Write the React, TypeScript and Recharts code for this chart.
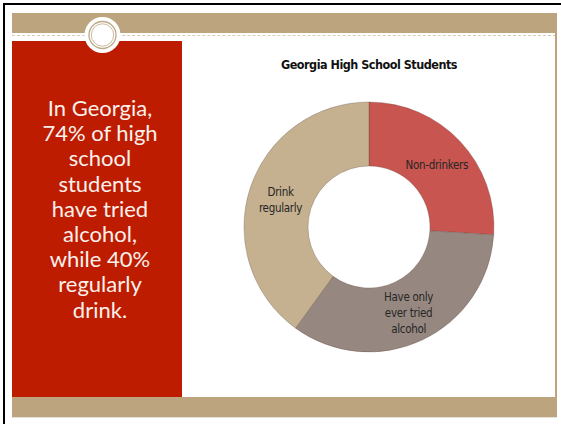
import { PieChart, Pie, Cell } from "recharts";

const categories = ["Non-drinkers", "Have only ever tried alcohol", "Drink regularly"];
const shares = [26, 34, 40];
const labelLines = [["Non-drinkers"], ["Have only", "ever tried", "alcohol"], ["Drink", "regularly"]];
const sliceColors = ["#C8554F", "#968880", "#C5B08F"];

const chartTitle = "Georgia High School Students";
const sideText = [
  "In Georgia,",
  "74% of high",
  "school",
  "students",
  "have tried",
  "alcohol,",
  "while 40%",
  "regularly",
  "drink.",
];

const data = categories.map((name, i) => ({ name, value: shares[i] }));

const narrow = "'Liberation Sans Narrow', 'DejaVu Sans Condensed', 'Arial Narrow', sans-serif";
const tan = "#BBA47E";
const RADIAN = Math.PI / 180;

function renderLabel(props: any) {
  const { cx, cy, midAngle, innerRadius, outerRadius, index } = props;
  const r = (innerRadius + outerRadius) / 2;
  const x = cx + r * Math.cos(-midAngle * RADIAN);
  const y = cy + r * Math.sin(-midAngle * RADIAN) + 1.5;
  const lines = labelLines[index];
  const lh = 16;
  return (
    <text
      x={x}
      y={y}
      textAnchor="middle"
      dominantBaseline="central"
      fontFamily={narrow}
      fontSize={11.5}
      letterSpacing={-0.3}
      fill="#262626"
    >
      {lines.map((line, i) => (
        <tspan key={i} x={x} dy={i === 0 ? -((lines.length - 1) / 2) * lh : lh}>
          {line}
        </tspan>
      ))}
    </text>
  );
}

export default function App() {
  return (
    <div
      style={{
        position: "absolute",
        left: 0,
        top: 0,
        width: 561,
        height: 424,
        background: "#fff",
        overflow: "hidden",
      }}
    >
      {/* screenshot frame */}
      <div
        style={{
          position: "absolute",
          left: 3,
          top: 3,
          width: 560,
          height: 424,
          borderTop: "2px solid #000",
          borderLeft: "2px solid #000",
        }}
      />

      {/* slide decorations */}
      <div style={{ position: "absolute", left: 12, top: 13, width: 544, height: 20, background: tan }} />
      <div
        style={{
          position: "absolute",
          left: 12,
          top: 35,
          width: 544,
          height: 0,
          borderTop: "1.5px dashed #D8CCB4",
        }}
      />
      <div style={{ position: "absolute", left: 555, top: 13, width: 2, height: 404, background: tan }} />
      <div style={{ position: "absolute", left: 12, top: 41, width: 170, height: 356, background: "#BE1C00" }} />
      <div style={{ position: "absolute", left: 12, top: 397, width: 545, height: 20, background: tan }} />
      <div style={{ position: "absolute", left: 12, top: 417, width: 545, height: 1, background: "#E4E0DA" }} />

      <svg width={561} height={424} style={{ position: "absolute", left: 0, top: 0 }}>
        <circle cx={102.5} cy={35} r={18} fill="#fff" />
        <circle cx={102.5} cy={35} r={13.5} fill="none" stroke="#BCA988" strokeWidth={1.3} />
        <circle cx={102.5} cy={35} r={11.2} fill="none" stroke="#C9BA9E" strokeWidth={1} />
      </svg>

      {/* side text */}
      <div
        style={{
          position: "absolute",
          left: 22,
          top: 95,
          width: 156,
          textAlign: "center",
          color: "#FBF1EC",
          fontFamily: "Lato, 'Open Sans', sans-serif",
          fontSize: 22,
          lineHeight: "25.2px",
        }}
      >
        {sideText.map((t, i) => (
          <div key={i}>{t}</div>
        ))}
      </div>

      {/* title */}
      <div
        style={{
          position: "absolute",
          left: 230,
          top: 57,
          width: 278,
          textAlign: "center",
          fontFamily: narrow,
          fontWeight: "bold",
          fontSize: 12.5,
          letterSpacing: -0.5,
          color: "#111",
        }}
      >
        {chartTitle}
      </div>

      <div style={{ position: "absolute", left: 0, top: 0 }}>
        <PieChart width={561} height={424} margin={{ top: 0, right: 0, bottom: 0, left: 0 }}>
          <Pie
            data={data}
            dataKey="value"
            nameKey="name"
            cx={369}
            cy={227}
            innerRadius={61}
            outerRadius={125}
            startAngle={90}
            endAngle={-270}
            stroke="rgba(80,60,50,0.35)"
            strokeWidth={0.8}
            label={renderLabel}
            labelLine={false}
            isAnimationActive={false}
          >
            {data.map((_, i) => (
              <Cell key={i} fill={sliceColors[i]} />
            ))}
          </Pie>
        </PieChart>
      </div>
    </div>
  );
}
